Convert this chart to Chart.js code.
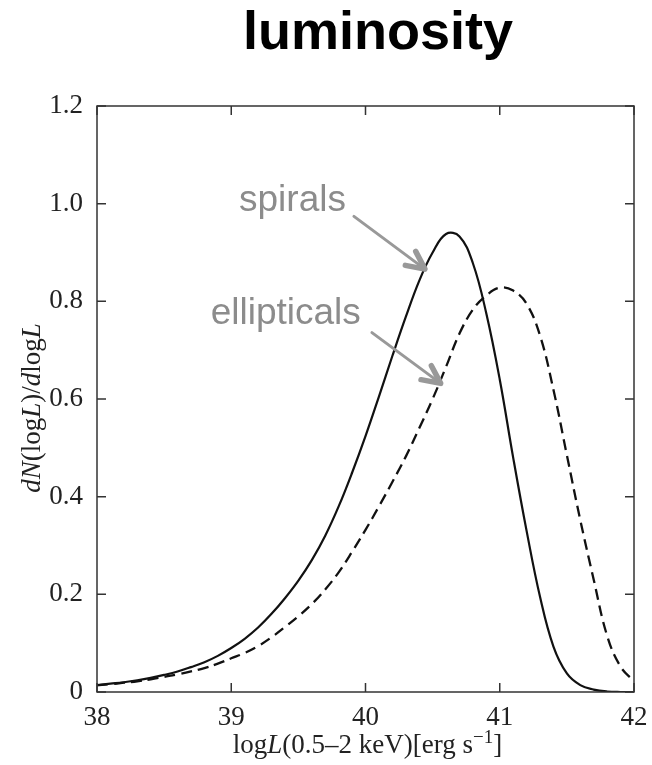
<!DOCTYPE html>
<html>
<head>
<meta charset="utf-8">
<script src="https://cdn.jsdelivr.net/npm/chart.js@4.4.1/dist/chart.umd.min.js"></script>
<style>
  html, body { margin: 0; padding: 0; background: #fff; }
  #wrap { width: 652px; height: 765px; }
</style>
</head>
<body>
<div id="wrap"><canvas id="chart" width="652" height="765"></canvas></div>
<script>
// log L (0.5-2 keV) grid
const logL = [38.0, 38.1, 38.2, 38.3, 38.4, 38.5, 38.6, 38.7, 38.8, 38.9,
              39.0, 39.1, 39.2, 39.3, 39.4, 39.5, 39.6, 39.7, 39.8, 39.9,
              40.0, 40.1, 40.2, 40.3, 40.4, 40.5, 40.6, 40.7, 40.8, 40.9,
              41.0, 41.1, 41.2, 41.3, 41.4, 41.5, 41.6, 41.7, 41.8, 41.9, 42.0];
const spirals = [0.014, 0.017, 0.020, 0.024, 0.029, 0.035, 0.042, 0.051, 0.061, 0.074,
                 0.090, 0.109, 0.132, 0.160, 0.192, 0.228, 0.270, 0.320, 0.380, 0.449,
                 0.524, 0.605, 0.688, 0.768, 0.842, 0.900, 0.938, 0.933, 0.878, 0.775,
                 0.640, 0.480, 0.330, 0.195, 0.093, 0.038, 0.014, 0.005, 0.001, 0.000, 0.000];
const ellipticals = [0.014, 0.016, 0.019, 0.022, 0.026, 0.031, 0.036, 0.042, 0.049, 0.058,
                     0.069, 0.080, 0.094, 0.112, 0.133, 0.155, 0.180, 0.210, 0.245, 0.287,
                     0.332, 0.380, 0.430, 0.482, 0.540, 0.600, 0.666, 0.734, 0.783, 0.812,
                     0.828, 0.822, 0.795, 0.730, 0.619, 0.485, 0.352, 0.230, 0.115, 0.052, 0.022];
const xTicks = [38, 39, 40, 41, 42];
const yTicks = [0, 0.2, 0.4, 0.6, 0.8, 1.0, 1.2];

// labels with arrows, placed in data units
const notes = [
  { text: 'spirals',     at: [39.456, 0.985], from: [39.914, 0.974], to: [40.443, 0.866] },
  { text: 'ellipticals', at: [39.406, 0.753], from: [40.048, 0.736], to: [40.56, 0.632] }
];

const INK = '#222';
const SERIF = '"Liberation Serif", "Times New Roman", serif';
const SANS = '"Liberation Sans", Arial, sans-serif';

function drawRich(ctx, parts, size) {
  // parts: [text, italic, sup]
  const fontOf = p => (p[1] ? 'italic ' : '') + (p[2] ? Math.round(size * 0.7) : size) + 'px ' + SERIF;
  let total = 0;
  parts.forEach(p => { ctx.font = fontOf(p); total += ctx.measureText(p[0]).width; });
  let x = -total / 2;
  parts.forEach(p => {
    ctx.font = fontOf(p);
    ctx.fillText(p[0], x, p[2] ? -size * 0.38 : 0);
    x += ctx.measureText(p[0]).width;
  });
}

const decor = {
  id: 'decor',
  afterDatasetsDraw(chart) {
    const { ctx, chartArea: a, scales: { x, y } } = chart;
    ctx.save();
    // frame + inward ticks
    ctx.strokeStyle = '#333';
    ctx.lineWidth = 1.5;
    ctx.strokeRect(a.left, a.top, a.right - a.left, a.bottom - a.top);
    ctx.beginPath();
    xTicks.forEach(v => {
      const px = x.getPixelForValue(v);
      ctx.moveTo(px, a.bottom); ctx.lineTo(px, a.bottom - 9);
      ctx.moveTo(px, a.top); ctx.lineTo(px, a.top + 9);
    });
    yTicks.forEach(v => {
      const py = y.getPixelForValue(v);
      ctx.moveTo(a.left, py); ctx.lineTo(a.left + 9, py);
      ctx.moveTo(a.right, py); ctx.lineTo(a.right - 9, py);
    });
    ctx.stroke();

    // annotations
    ctx.strokeStyle = '#999';
    ctx.fillStyle = '#8c8c8c';
    ctx.lineCap = 'round';
    ctx.lineJoin = 'round';
    notes.forEach(n => {
      ctx.font = '37px ' + SANS;
      ctx.textAlign = 'center';
      ctx.textBaseline = 'alphabetic';
      ctx.fillText(n.text, x.getPixelForValue(n.at[0]), y.getPixelForValue(n.at[1]));
      const x0 = x.getPixelForValue(n.from[0]), y0 = y.getPixelForValue(n.from[1]);
      const x1 = x.getPixelForValue(n.to[0]), y1 = y.getPixelForValue(n.to[1]);
      const ang = Math.atan2(y1 - y0, x1 - x0);
      ctx.lineWidth = 3;
      ctx.beginPath();
      ctx.moveTo(x0, y0); ctx.lineTo(x1, y1);
      ctx.stroke();
      ctx.lineWidth = 5.5;
      ctx.beginPath();
      ctx.moveTo(x1 - 20 * Math.cos(ang - 0.45), y1 - 20 * Math.sin(ang - 0.45));
      ctx.lineTo(x1, y1);
      ctx.lineTo(x1 - 20 * Math.cos(ang + 0.45), y1 - 20 * Math.sin(ang + 0.45));
      ctx.stroke();
    });

    // title
    ctx.fillStyle = '#000';
    ctx.font = 'bold 54px ' + SANS;
    ctx.textAlign = 'center';
    ctx.fillText('luminosity', 378, 49);

    // axis titles
    ctx.fillStyle = INK;
    ctx.textAlign = 'left';
    ctx.save();
    ctx.translate((a.left + a.right) / 2 + 2, 753);
    drawRich(ctx, [['log', false], ['L', true], ['(0.5\u20132 keV)[erg s', false], ['\u22121', false, true], [']', false]], 27);
    ctx.restore();
    ctx.save();
    ctx.translate(40, 408);
    ctx.rotate(-Math.PI / 2);
    drawRich(ctx, [['d', true], ['N', true], ['(log', false], ['L', true], [')/', false], ['d', true], ['log', false], ['L', true]], 27);
    ctx.restore();
    ctx.restore();
  }
};

new Chart(document.getElementById('chart'), {
  type: 'line',
  data: {
    datasets: [
      { label: 'spirals', data: logL.map((v, i) => ({ x: v, y: spirals[i] })),
        borderColor: '#111', borderWidth: 2.2, pointRadius: 0, tension: 0.4 },
      { label: 'ellipticals', data: logL.map((v, i) => ({ x: v, y: ellipticals[i] })),
        borderColor: '#111', borderWidth: 2.3, borderDash: [11, 6], pointRadius: 0, tension: 0.4 }
    ]
  },
  options: {
    responsive: false,
    animation: false,
    devicePixelRatio: 1,
    layout: { padding: { top: 106, right: 18, left: 0, bottom: 0 } },
    plugins: { legend: { display: false }, tooltip: { enabled: false } },
    scales: {
      x: {
        type: 'linear', min: 38, max: 42,
        afterBuildTicks: s => { s.ticks = xTicks.map(v => ({ value: v })); },
        afterFit: s => { s.height = 73; },
        grid: { display: false }, border: { display: false },
        ticks: { padding: 2, maxRotation: 0, color: INK, font: { family: SERIF, size: 27 } }
      },
      y: {
        min: 0, max: 1.2,
        afterBuildTicks: s => { s.ticks = yTicks.map(v => ({ value: v })); },
        afterFit: s => { s.width = 97; },
        grid: { display: false }, border: { display: false },
        ticks: { padding: 6, color: INK, font: { family: SERIF, size: 27 },
                 callback: v => (v === 0 ? '0' : v.toFixed(1)) }
      }
    }
  },
  plugins: [decor]
});
</script>
</body>
</html>
